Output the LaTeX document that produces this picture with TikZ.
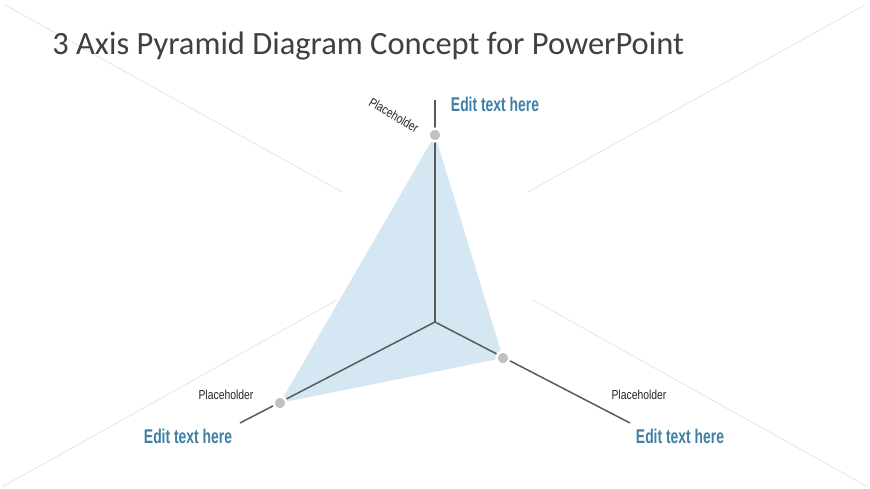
\documentclass[tikz,border=0pt]{standalone}
\usepackage{fontspec}
\setmainfont{Carlito}
\newfontfamily\editfont[FakeStretch=0.70]{Liberation Sans}
\newfontfamily\holdfont[FakeStretch=0.80]{Liberation Sans}
\usepackage{xcolor}
\definecolor{titlegrey}{HTML}{404040}
\definecolor{axisgrey}{HTML}{5A5A5A}
\definecolor{dotgrey}{HTML}{C0C0C4}
\definecolor{pyrblue}{HTML}{D5E7F3}
\definecolor{editblue}{HTML}{3F80A5}
\definecolor{faintgrey}{HTML}{E4E4E4}
\tikzset{%
    title/.style={inner sep=0pt, text=titlegrey, font=\fontsize{18.5}{22}\selectfont},
    axis/.style={draw=axisgrey, line width=0.85pt},
    faint/.style={draw=faintgrey, line width=0.4pt},
    dot/.style={circle, fill=dotgrey, draw=white, line width=1.4pt, inner sep=0pt, minimum size=7.2pt},
    edit/.style={inner sep=0pt, text=editblue, font=\editfont\bfseries\fontsize{11.3}{13}\selectfont},
    hold/.style={inner sep=0pt, text=black!85, font=\holdfont\fontsize{7.4}{8}\selectfont}
}
\begin{document}
\begin{tikzpicture}[x=0.02cm,y=-0.02cm]
\useasboundingbox[fill=white] (0,0) rectangle (870,489);
% background cross
\draw[faint] (5,5) -- (342,192);
\draw[faint] (533,300) -- (868,487);
\draw[faint] (865,5) -- (528,192);
\draw[faint] (337,300) -- (2,487);
\node[title, anchor=base west] (heading) at (52,55) {3 Axis Pyramid Diagram Concept for PowerPoint};
\coordinate (O) at (435,322);
\coordinate (topend) at (435,100);
\coordinate (leftend) at (240,423);
\coordinate (rightend) at (630,423);
\coordinate (a) at (435,135);
\coordinate (b) at (280,403);
\coordinate (c) at (503,358);
\fill[pyrblue] (a) -- (b) -- (c) -- cycle;
\draw[axis] (O) -- (topend);
\draw[axis] (O) -- (leftend);
\draw[axis] (O) -- (rightend);
\node[dot] (topdot) at (a) {};
\node[dot] (leftdot) at (b) {};
\node[dot] (rightdot) at (c) {};
\node[edit] (toplabel) at (495,104) {Edit text here};
\node[edit] (leftlabel) at (188,436) {Edit text here};
\node[edit] (rightlabel) at (680,436) {Edit text here};
\node[hold, rotate=-30] (topph) at (394,115) {Placeholder};
\node[hold] (leftph) at (226,395) {Placeholder};
\node[hold] (rightph) at (639,395) {Placeholder};
\end{tikzpicture}
\end{document}
